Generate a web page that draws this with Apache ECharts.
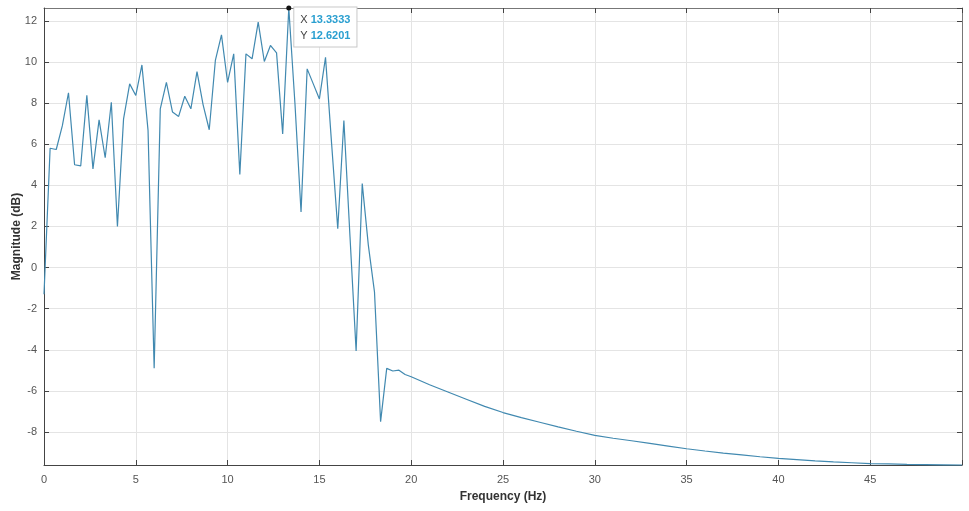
<!DOCTYPE html>
<html>
<head>
<meta charset="utf-8">
<script src="https://cdn.jsdelivr.net/npm/echarts@6/dist/echarts.min.js"></script>
<style>
html,body{margin:0;padding:0;background:#fff;}
#c{width:969px;height:511px;}
</style>
</head>
<body>
<div id="c"></div>
<script>
// FFT bins (1/3 Hz spacing) up to 20 Hz
const denseFreq = [0,0.3333,0.6667,1,1.3333,1.6667,2,2.3333,2.6667,3,3.3333,3.6667,4,4.3333,4.6667,5,5.3333,5.6667,6,6.3333,6.6667,7,7.3333,7.6667,8,8.3333,8.6667,9,9.3333,9.6667,10,10.3333,10.6667,11,11.3333,11.6667,12,12.3333,12.6667,13,13.3333,13.6667,14,14.3333,14.6667,15,15.3333,15.6667,16,16.3333,16.6667,17,17.3333,17.6667,18,18.3333,18.6667,19,19.3333,19.6667,20];
const denseMag = [-1.3,5.8,5.74,6.9,8.5,5.0,4.94,8.37,4.8,7.18,5.34,8.04,2.0,7.23,8.93,8.37,9.85,6.67,-4.9,7.72,9.0,7.56,7.35,8.33,7.72,9.53,7.91,6.7,10.07,11.31,9.0,10.39,4.53,10.39,10.15,11.93,10.02,10.8,10.44,6.5,12.6201,8.0,2.7,9.66,8.93,8.2,10.22,6.0,1.89,7.15,1.5,-4.06,4.08,1.08,-1.18,-7.49,-4.9,-5.03,-4.99,-5.2,-5.31];
// smooth roll-off read at 1 Hz steps
const tailFreq = [21,22,23,24,25,26,27,28,29,30,31,32,33,34,35,36,37,38,39,40,41,42,43,44,45,46,47,48,49,50];
const tailMag = [-5.7,-6.05,-6.4,-6.75,-7.05,-7.3,-7.52,-7.75,-7.96,-8.16,-8.3,-8.42,-8.55,-8.68,-8.81,-8.92,-9.02,-9.11,-9.2,-9.28,-9.34,-9.4,-9.45,-9.49,-9.53,-9.55,-9.57,-9.58,-9.59,-9.6];
const xTicks = [0,5,10,15,20,25,30,35,40,45];
const yRange = [-9.6, 12.6201];

const freq = denseFreq.concat(tailFreq);
const mag = denseMag.concat(tailMag);
const seriesData = freq.map((f, i) => [f, mag[i]]);

let pk = 0;
mag.forEach((v, i) => { if (v > mag[pk]) pk = i; });

const fontFam = '"Liberation Sans", Arial, sans-serif';
const axisCol = '#444';
const chart = echarts.init(document.getElementById('c'));

const xBase = {
  type: 'value', min: 0, max: 50, interval: 5,
  axisLine: {show: true, onZero: false, lineStyle: {color: axisCol, width: 1}},
  axisTick: {show: true, inside: true, length: 5, lineStyle: {color: axisCol}},
  splitLine: {show: false}
};
const yBase = {
  type: 'value', min: yRange[0], max: yRange[1], splitNumber: 11,
  axisLine: {show: true, onZero: false, lineStyle: {color: axisCol, width: 1}},
  axisTick: {show: true, inside: true, length: 5, lineStyle: {color: axisCol}},
  splitLine: {show: false}
};

chart.setOption({
  backgroundColor: '#fff',
  animation: false,
  grid: {left: 44, right: 7, top: 8, bottom: 46, containLabel: false, outerBoundsMode: 'none'},
  xAxis: [
    Object.assign({}, xBase, {
      position: 'bottom',
      name: 'Frequency (Hz)', nameLocation: 'middle', nameGap: 26, nameMoveOverlap: false,
      nameTextStyle: {fontFamily: fontFam, fontSize: 12, fontWeight: 'bold', color: '#333'},
      axisLabel: {show: true, margin: 9, fontFamily: fontFam, fontSize: 11, color: '#555',
        formatter: v => xTicks.indexOf(v) >= 0 ? String(v) : ''},
      splitLine: {show: true, lineStyle: {color: '#e4e4e4', width: 1}}
    }),
    Object.assign({}, xBase, {position: 'top', axisLabel: {show: false},
      axisLine: {show: true, onZero: false, lineStyle: {color: '#777', width: 1}}})
  ],
  yAxis: [
    Object.assign({}, yBase, {
      position: 'left',
      name: 'Magnitude (dB)', nameLocation: 'middle', nameGap: 21, nameMoveOverlap: false,
      nameTextStyle: {fontFamily: fontFam, fontSize: 12, fontWeight: 'bold', color: '#333'},
      axisLabel: {show: true, margin: 7, fontFamily: fontFam, fontSize: 11, color: '#555',
        showMinLabel: false, showMaxLabel: false,
        formatter: v => (Math.abs(v - Math.round(v)) < 1e-6) ? String(Math.round(v)) : ''},
      splitLine: {show: true, lineStyle: {color: '#e4e4e4', width: 1}}
    }),
    Object.assign({}, yBase, {position: 'right', axisLabel: {show: false},
      axisLine: {show: true, onZero: false, lineStyle: {color: '#777', width: 1}}})
  ],
  series: [{
    type: 'line',
    data: seriesData,
    xAxisIndex: 0, yAxisIndex: 0,
    showSymbol: false,
    symbol: 'none',
    clip: false,
    lineStyle: {color: '#4189b0', width: 1.2},
    markPoint: {
      silent: true,
      symbol: 'circle',
      symbolSize: 5,
      itemStyle: {color: '#111'},
      data: [{coord: [freq[pk], mag[pk]]}],
      label: {
        show: true,
        position: [8, 2],
        backgroundColor: '#fff',
        borderColor: '#c8c8c8',
        borderWidth: 1,
        padding: [4, 6, 3, 6],
        lineHeight: 16,
        formatter: 'X {v|' + freq[pk].toFixed(4) + '}\nY {v|' + mag[pk].toFixed(4) + '}',
        fontFamily: fontFam, fontSize: 11, color: '#444',
        rich: {
          v: {fontFamily: fontFam, fontSize: 11, fontWeight: 'bold', color: '#2a9fd0', lineHeight: 16}
        }
      }
    }
  }]
});
</script>
</body>
</html>
